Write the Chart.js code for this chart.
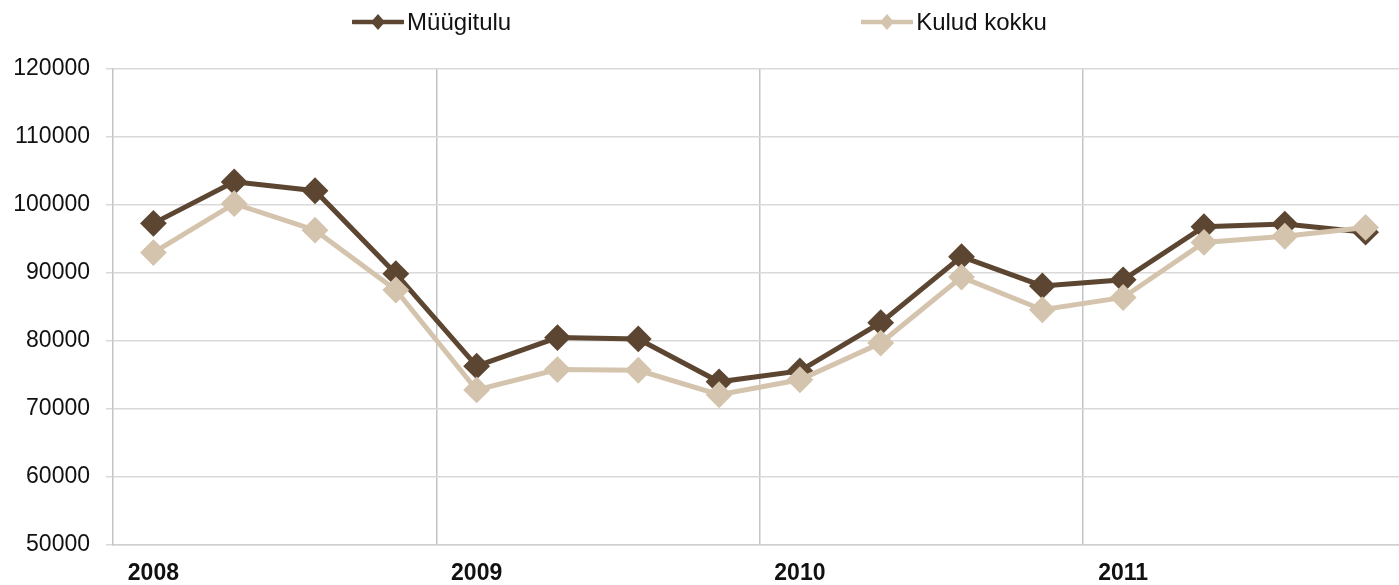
<!DOCTYPE html>
<html>
<head>
<meta charset="utf-8">
<script src="https://cdn.jsdelivr.net/npm/chart.js@4.4.1/dist/chart.umd.min.js"></script>
<style>
  html, body { margin: 0; padding: 0; background: #ffffff; overflow: hidden; }
  #wrap { position: relative; width: 1399px; height: 585px; overflow: hidden; }
  #c { position: absolute; left: 0; top: 0; }
  #legend { position: absolute; left: 0; top: 7px; width: 1399px; height: 30px;
            display: flex; justify-content: center; align-items: center; gap: 350px;
            font-family: "Liberation Sans", Arial, sans-serif; font-size: 24px; color: #111; }
  .item { display: flex; align-items: center; }
  .item svg { margin-right: 3px; }
</style>
</head>
<body>
<div id="wrap">
  <canvas id="c" width="1420" height="585"></canvas>
  <div id="legend"></div>
</div>
<script>
// Categories (quarters) and tick labels
const quarters = ['2008 I','2008 II','2008 III','2008 IV','2009 I','2009 II','2009 III','2009 IV',
                  '2010 I','2010 II','2010 III','2010 IV','2011 I','2011 II','2011 III','2011 IV'];
const yearLabels = ['2008','','','','2009','','','','2010','','','','2011','','',''];

// Series values
const seriesNames = ['Müügitulu', 'Kulud kokku'];
const myygitulu = [97300, 103400, 102100, 89900, 76300, 80500, 80300, 74000,
                   75600, 82700, 92400, 88100, 89000, 96800, 97200, 96000];
const kuludKokku = [93000, 100200, 96300, 87500, 72800, 75800, 75700, 72100,
                    74300, 79700, 89400, 84600, 86400, 94500, 95400, 96700];

const colors = ['#5c4632', '#d5c4ad'];

// HTML legend
const legendEl = document.getElementById('legend');
seriesNames.forEach((name, i) => {
  const item = document.createElement('div');
  item.className = 'item';
  item.innerHTML =
    '<svg width="52" height="20" viewBox="0 0 52 20">' +
    '<line x1="1" y1="10" x2="51" y2="10" stroke="' + colors[i] + '" stroke-width="4.5" stroke-linecap="round"/>' +
    '<polygon points="26,2 33,10 26,18 19,10" fill="' + colors[i] + '"/></svg>';
  const span = document.createElement('span');
  span.textContent = name;
  item.appendChild(span);
  legendEl.appendChild(item);
});

Chart.defaults.font.family = '"Liberation Sans", Arial, sans-serif';
Chart.defaults.color = '#111111';

new Chart(document.getElementById('c'), {
  type: 'line',
  data: {
    labels: quarters,
    datasets: [
      {
        label: seriesNames[0],
        data: myygitulu,
        borderColor: colors[0],
        backgroundColor: colors[0],
        borderWidth: 5,
        pointStyle: 'rectRot',
        pointRadius: 12,
        pointBorderWidth: 2,
        pointBorderColor: colors[0],
        pointBackgroundColor: colors[0],
        tension: 0,
        order: 2
      },
      {
        label: seriesNames[1],
        data: kuludKokku,
        borderColor: colors[1],
        backgroundColor: colors[1],
        borderWidth: 5,
        pointStyle: 'rectRot',
        pointRadius: 12,
        pointBorderWidth: 2,
        pointBorderColor: colors[1],
        pointBackgroundColor: colors[1],
        tension: 0,
        order: 1
      }
    ]
  },
  options: {
    responsive: false,
    animation: false,
    devicePixelRatio: 1,
    layout: { padding: { top: 69, right: 0, bottom: 0, left: 0 } },
    plugins: {
      legend: { display: false },
      tooltip: { enabled: false }
    },
    scales: {
      x: {
        offset: true,
        grid: {
          offset: true,
          drawTicks: false,
          color: (ctx) => (ctx.index > 0 && ctx.index < quarters.length && ctx.index % 4 === 0) ? '#c4c4c4' : 'rgba(0,0,0,0)',
          lineWidth: 1.5
        },
        border: { display: true, color: '#d0d0d0', width: 1.5 },
        ticks: {
          autoSkip: false,
          maxRotation: 0,
          minRotation: 0,
          padding: 15,
          font: { size: 23, weight: 'bold' },
          color: '#111111',
          callback: (value, index) => yearLabels[index]
        },
        afterFit: (scale) => { scale.height = 40; }
      },
      y: {
        min: 50000,
        max: 120000,
        grid: {
          color: '#d9d9d9',
          lineWidth: 1.5,
          tickLength: 7,
          drawTicks: true
        },
        border: { display: true, color: '#c4c4c4', width: 1.5 },
        ticks: {
          stepSize: 10000,
          padding: 16,
          font: { size: 23 },
          color: '#111111',
          callback: (v) => String(v)
        },
        afterFit: (scale) => { scale.width = 113; }
      }
    }
  }
});
</script>
</body>
</html>
